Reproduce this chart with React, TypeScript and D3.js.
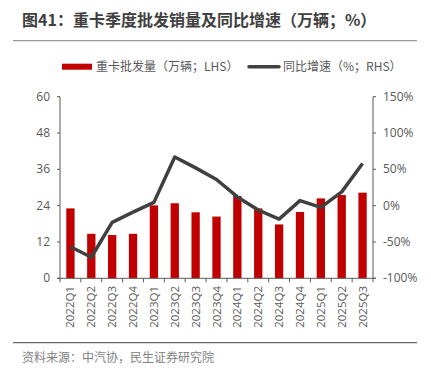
import React from "react";
import * as d3 from "d3";

const categories = ["2022Q1","2022Q2","2022Q3","2022Q4","2023Q1","2023Q2","2023Q3","2023Q4","2024Q1","2024Q2","2024Q3","2024Q4","2025Q1","2025Q2","2025Q3"];
const sales = [23.1, 14.7, 14.3, 14.7, 24.1, 24.8, 21.8, 20.4, 27.2, 23.1, 17.8, 21.9, 26.4, 27.5, 28.3];
const growth = [-56.6, -71, -23, -9, 4.5, 67, 52, 36, 12, -6, -18.5, 7, -2.4, 19, 58];
const leftTicks = [0, 12, 24, 36, 48, 60];
const rightTicks = [-100, -50, 0, 50, 100, 150];

const FONT = "'Noto Sans CJK SC', 'Noto Sans', sans-serif";
const NUMFONT = "'Open Sans', 'Noto Sans CJK SC', sans-serif";

export default function App() {
  const W = 431, H = 375;
  const x0 = 60, x1 = 373, yTop = 96.7, yBot = 278.3;
  const xb = d3.scaleBand().domain(categories).range([x0, x1]);
  const yL = d3.scaleLinear().domain([0, 60]).range([yBot, yTop]);
  const yR = d3.scaleLinear().domain([-100, 150]).range([yBot, yTop]);
  const line = d3.line<number>()
    .x((_, i) => (xb(categories[i]) as number) + xb.bandwidth() / 2)
    .y((d) => yR(d));
  const barW = 8.3;
  const axisColor = "#595959";
  const textColor = "#595959";
  return (
    <svg width={W} height={H} style={{ position: "absolute", left: 0, top: 0, fontFamily: FONT }}>
      <rect width={W} height={H} fill="#fff" />
      <text x={22} y={26} fontSize={16} fontWeight="bold" fill="#404040" fontFamily={FONT}>图41：重卡季度批发销量及同比增速（万辆；%）</text>
      <line x1={13} x2={417} y1={40.7} y2={40.7} stroke="#808080" strokeWidth={1} />
      <rect x={62} y={63.7} width={30} height={6} fill="#C00000" />
      <text x={96} y={71} fontSize={12} fill={textColor} fontFamily={FONT}>重卡批发量（万辆；LHS）</text>
      <line x1={249} x2={279} y1={66.7} y2={66.7} stroke="#404040" strokeWidth={3.5} strokeLinecap="round" />
      <text x={283} y={71} fontSize={12} fill={textColor} fontFamily={FONT}>同比增速（%；RHS）</text>
      {categories.map((c, i) => {
        const cx = (xb(c) as number) + xb.bandwidth() / 2;
        return <rect key={c} x={cx - barW / 2} y={yL(sales[i])} width={barW} height={yBot - yL(sales[i])} fill="#C00000" />;
      })}
      <path d={line(growth) || ""} fill="none" stroke="#404040" strokeWidth={3.5} strokeLinejoin="round" />
      <line x1={x0} x2={x0} y1={yTop} y2={yBot} stroke={axisColor} strokeWidth={1} />
      {leftTicks.map((t) => (
        <g key={t}>
          <line x1={x0 - 3} x2={x0} y1={yL(t)} y2={yL(t)} stroke={axisColor} />
          <text x={50} y={yL(t) + 4} fontSize={12} textAnchor="end" fill={textColor} fontFamily={NUMFONT}>{t}</text>
        </g>
      ))}
      <line x1={x1} x2={x1} y1={yTop} y2={yBot} stroke={axisColor} strokeWidth={1} />
      {rightTicks.map((t) => (
        <g key={t}>
          <line x1={x1} x2={x1 + 3} y1={yR(t)} y2={yR(t)} stroke={axisColor} />
          <text x={383} y={yR(t) + 4} fontSize={12} fill={textColor} fontFamily={NUMFONT}>{t}%</text>
        </g>
      ))}
      <line x1={x0 - 3} x2={x1 + 3} y1={yBot} y2={yBot} stroke={axisColor} strokeWidth={1} />
      {categories.map((c) => (
        <line key={"t" + c} x1={xb(c) as number} x2={xb(c) as number} y1={yBot} y2={yBot + 4} stroke={axisColor} />
      ))}
      <line x1={x1} x2={x1} y1={yBot} y2={yBot + 4} stroke={axisColor} />
      {categories.map((c) => {
        const cx = (xb(c) as number) + xb.bandwidth() / 2;
        return (
          <text key={"l" + c} transform={`translate(${cx + 4},${286}) rotate(-90)`} fontSize={11.5} textAnchor="end" fill={textColor} fontFamily={NUMFONT}>{c}</text>
        );
      })}
      <line x1={13} x2={417} y1={342.7} y2={342.7} stroke="#404040" strokeWidth={1} />
      <text x={22} y={362} fontSize={12} fill="#7f7f7f" fontFamily={FONT}>资料来源：中汽协，民生证券研究院</text>
    </svg>
  );
}
